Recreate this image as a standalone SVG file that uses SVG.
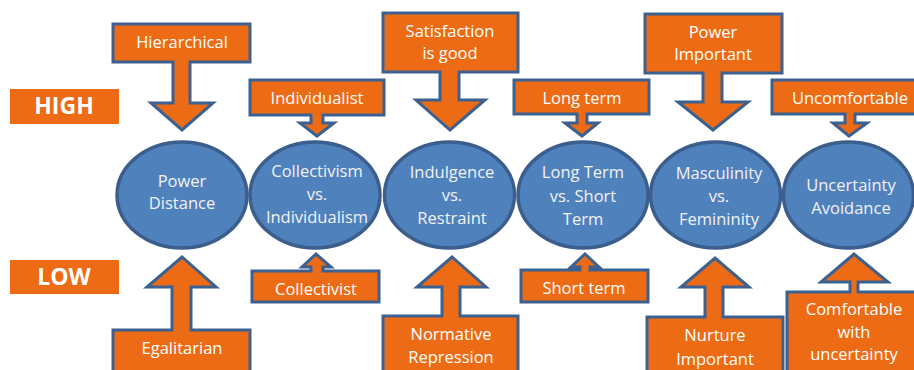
<svg xmlns="http://www.w3.org/2000/svg" width="914" height="370" viewBox="0 0 914 370">
<style>
.co{fill:#ED6B14;stroke:#3C6190;stroke-width:3;stroke-linejoin:miter}
.ov{fill:#4F81BD;stroke:#3B5E8C;stroke-width:3.5}
.t{font-family:"Open Sans","Liberation Sans",sans-serif;font-size:16.5px;fill:#FFFFFF;text-anchor:middle}
.ot{font-family:"Open Sans","Liberation Sans",sans-serif;font-size:16.5px;fill:#F2F2F2;text-anchor:middle}
.lv{fill:#ED6B14}
.lt{font-family:"Open Sans","Liberation Sans",sans-serif;font-size:23px;font-weight:bold;fill:#FFFFFF;text-anchor:middle}
</style>
<rect width="914" height="370" fill="#FFFFFF"/>
<g id="level-high"><rect class="lv" x="10" y="89" width="109" height="35"/><text class="lt" x="64" y="114">HIGH</text></g>
<g id="level-low"><rect class="lv" x="10" y="260" width="109" height="34"/><text class="lt" x="64" y="285">LOW</text></g>
<g id="connectors">
<g id="hierarchical"><path class="co" d="M113,24 H250 V62 H190 V103 H213 L182,130 L151,103 H173 V62 H113 Z"/><text class="t" x="182" y="48">Hierarchical</text></g>
<g id="individualist"><path class="co" d="M250,80 H384 V115 H323 V123 H334 L317,136 L300,123 H311 V115 H250 Z"/><text class="t" x="317" y="104">Individualist</text></g>
<g id="satisfaction"><path class="co" d="M383,13 H518 V72 H459 V100 H485 L450,130 L416,100 H440 V72 H383 Z"/><text class="t" x="450" y="37">Satisfaction</text><text class="t" x="450" y="59">is good</text></g>
<g id="longterm"><path class="co" d="M514,80 H649 V114 H587 V123 H598 L582,136 L565,123 H577 V114 H514 Z"/><text class="t" x="582" y="104">Long term</text></g>
<g id="powerimportant"><path class="co" d="M645,14 H782 V73 H722 V102 H748 L713,130 L678,102 H703 V73 H645 Z"/><text class="t" x="713" y="38">Power</text><text class="t" x="713" y="60">Important</text></g>
<g id="uncomfortable"><path class="co" d="M772,80 H928 V114 H855 V123 H867 L849,136 L833,123 H845 V114 H772 Z"/><text class="t" x="850" y="104">Uncomfortable</text></g>
<g id="egalitarian"><path class="co" d="M113,385 V330 H172 V287 H147 L182,257 L216,287 H191 V330 H250 V385 Z"/><text class="t" x="182" y="354">Egalitarian</text></g>
<g id="collectivist"><path class="co" d="M252,302 V271 H311 V267 H302 L316,254 L331,267 H323 V271 H379 V302 Z"/><text class="t" x="316" y="295">Collectivist</text></g>
<g id="normative"><path class="co" d="M383,385 V316 H442 V287 H417 L452,257 L486,287 H460 V316 H518 V385 Z"/><text class="t" x="451" y="340">Normative</text><text class="t" x="451" y="363">Repression</text></g>
<g id="shortterm"><path class="co" d="M521,302 V270 H580 V267 H571 L585,254 L599,267 H590 V270 H648 V302 Z"/><text class="t" x="584" y="294">Short term</text></g>
<g id="nurture"><path class="co" d="M647,385 V317 H705 V287 H681 L715,258 L749,287 H723 V317 H783 V385 Z"/><text class="t" x="715" y="341">Nurture</text><text class="t" x="715" y="365">Important</text></g>
<g id="comfortable"><path class="co" d="M787,385 V292 H850 V282 H821 L854,254 L888,282 H858 V292 H922 V385 Z"/><text class="t" x="854" y="315">Comfortable</text><text class="t" x="854" y="338">with</text><text class="t" x="854" y="360">uncertainty</text></g>
</g>
<g id="power-distance"><ellipse class="ov" cx="182" cy="195" rx="65" ry="53"/><text class="ot" x="182" y="187">Power</text><text class="ot" x="182" y="209">Distance</text></g>
<g id="collectivism"><ellipse class="ov" cx="315" cy="195" rx="65" ry="53"/><text class="ot" x="317" y="177">Collectivism</text><text class="ot" x="317" y="200">vs.</text><text class="ot" x="317" y="223">Individualism</text></g>
<g id="indulgence"><ellipse class="ov" cx="449.5" cy="195" rx="65" ry="53"/><text class="ot" x="452" y="178">Indulgence</text><text class="ot" x="452" y="201">vs.</text><text class="ot" x="452" y="224">Restraint</text></g>
<g id="long-term"><ellipse class="ov" cx="583" cy="195" rx="65" ry="53"/><text class="ot" x="583" y="178">Long Term</text><text class="ot" x="583" y="202">vs. Short</text><text class="ot" x="583" y="225">Term</text></g>
<g id="masculinity"><ellipse class="ov" cx="715.5" cy="195" rx="65" ry="53"/><text class="ot" x="719" y="179">Masculinity</text><text class="ot" x="719" y="202">vs.</text><text class="ot" x="719" y="225">Femininity</text></g>
<g id="uncertainty"><ellipse class="ov" cx="848.5" cy="195" rx="65" ry="53"/><text class="ot" x="851" y="191">Uncertainty</text><text class="ot" x="851" y="214">Avoidance</text></g>
</svg>
